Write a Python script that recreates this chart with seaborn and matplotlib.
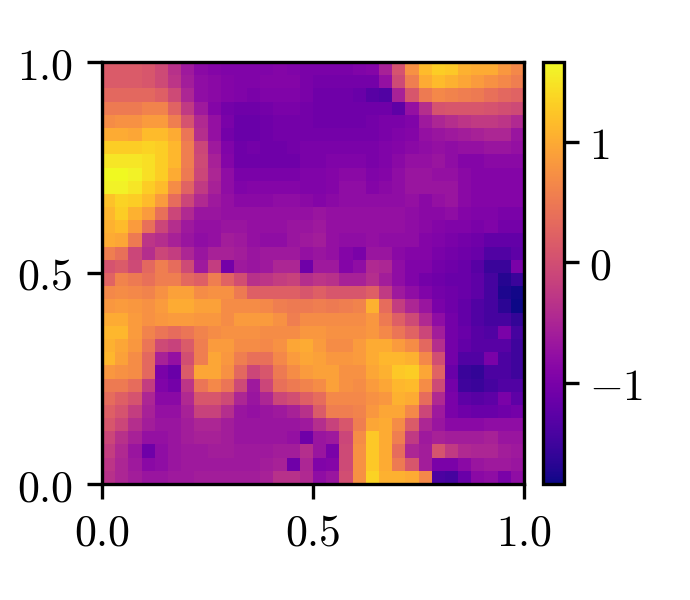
#coding:utf-8
import numpy as np
import matplotlib
matplotlib.use("Agg")
import matplotlib.pyplot as plt
import seaborn as sns

plt.rcParams['mathtext.fontset']='cm'
plt.rcParams['font.size']=10.5

# field values, rows go top to bottom
values_top_left=[
[0.15,0.15,0.15,0.1,-0.05,-0.35,-0.65,-0.85,-0.9,-0.95,-0.95,-0.95,-0.95,-0.9,-0.95,-1.0],
[0.15,0.15,0.15,0.1,-0.05,-0.3,-0.6,-0.8,-0.85,-0.9,-0.95,-0.95,-0.9,-0.9,-0.9,-1.0],
[0.3,0.3,0.3,0.3,0.2,-0.05,-0.5,-0.8,-0.85,-0.9,-0.95,-1.0,-0.95,-0.95,-0.95,-1.0],
[0.5,0.5,0.5,0.6,0.6,0.25,-0.25,-0.65,-0.9,-1.05,-1.1,-1.1,-1.05,-1.0,-1.0,-1.05],
[0.7,0.75,0.75,0.85,0.85,0.55,0.05,-0.45,-0.75,-1.0,-1.15,-1.15,-1.1,-1.05,-1.05,-1.05],
[1.0,1.0,0.95,1.15,1.15,1.0,0.45,-0.4,-0.75,-1.05,-1.15,-1.15,-1.1,-1.05,-1.05,-1.05],
[1.3,1.3,1.3,1.35,1.3,1.1,0.55,-0.1,-0.65,-0.95,-1.1,-1.05,-1.1,-1.1,-1.05,-1.0],
[1.5,1.5,1.5,1.45,1.3,1.1,0.55,-0.05,-0.55,-0.9,-1.1,-1.1,-1.1,-1.1,-1.1,-1.0],
[1.65,1.65,1.6,1.45,1.3,1.0,0.5,-0.1,-0.5,-0.8,-1.0,-1.0,-1.0,-1.0,-1.0,-0.95],
[1.6,1.6,1.5,1.3,1.15,0.7,0.25,-0.25,-0.55,-0.8,-0.95,-0.9,-0.9,-0.9,-0.9,-0.95],
[1.2,1.35,1.3,1.15,0.85,0.35,-0.1,-0.45,-0.65,-0.75,-0.85,-0.85,-0.85,-0.8,-0.8,-0.85],
[1.1,1.3,1.05,0.85,0.4,-0.1,-0.45,-0.7,-0.7,-0.75,-0.75,-0.75,-0.75,-0.75,-0.75,-0.75],
[1.05,1.15,0.85,0.4,-0.1,-0.4,-0.65,-0.75,-0.75,-0.7,-0.7,-0.75,-0.75,-0.75,-0.7,-0.7],
[1.0,0.95,0.5,-0.3,-0.4,-0.55,-0.7,-0.8,-0.75,-0.6,-0.65,-0.75,-0.8,-0.8,-0.7,-0.65],
[0.55,0.4,-0.1,-0.4,-0.1,-0.2,-0.5,-0.7,-0.55,-0.55,-0.6,-0.7,-0.65,-0.65,-0.65,-0.75],
[0.05,0.15,-0.05,0.3,0.55,0.35,-0.05,-0.65,-0.2,-1.05,-0.65,-0.7,-0.65,-0.5,-0.5,-1.1],
]
values_top_right=[
[-1.0,-1.0,-1.0,-0.95,-0.9,-0.55,0.05,0.75,1.15,1.3,1.25,1.05,1.0,1.0,0.8,0.65],
[-1.05,-1.05,-1.05,-1.05,-1.05,-0.75,-0.05,0.55,1.0,1.15,1.05,0.95,0.85,0.75,0.65,0.55],
[-1.1,-1.1,-1.1,-1.15,-1.3,-1.35,-0.55,0.1,0.5,0.65,0.6,0.55,0.5,0.4,0.3,0.25],
[-1.1,-1.1,-1.1,-1.1,-1.1,-1.1,-1.25,-0.75,-0.4,0.05,0.1,0.1,0.1,0.05,0.0,-0.05],
[-1.1,-1.1,-1.1,-1.1,-1.05,-1.0,-1.0,-0.95,-0.65,-0.5,-0.4,-0.3,-0.25,-0.25,-0.3,-0.45],
[-1.05,-1.05,-1.05,-1.05,-1.05,-1.0,-0.95,-0.9,-0.75,-0.7,-0.65,-0.6,-0.55,-0.5,-0.5,-0.7],
[-1.0,-1.0,-1.0,-1.0,-1.0,-0.95,-0.9,-0.85,-0.8,-0.75,-0.8,-0.75,-0.75,-0.7,-0.7,-0.75],
[-1.0,-0.95,-0.95,-0.95,-1.0,-0.95,-0.85,-0.75,-0.75,-0.7,-0.8,-0.9,-0.9,-0.85,-0.85,-0.85],
[-0.95,-0.9,-0.85,-0.85,-0.95,-0.9,-0.8,-0.7,-0.7,-0.75,-0.75,-0.85,-0.9,-0.9,-0.9,-0.9],
[-0.95,-0.9,-0.8,-0.8,-0.9,-0.85,-0.8,-0.7,-0.7,-0.7,-0.7,-0.85,-0.9,-0.9,-0.9,-0.9],
[-0.9,-0.85,-0.8,-0.8,-0.8,-0.8,-0.8,-0.75,-0.85,-0.75,-0.7,-0.85,-0.9,-0.9,-0.9,-0.9],
[-0.7,-0.75,-0.75,-0.75,-0.75,-0.75,-0.75,-0.8,-0.85,-0.85,-0.8,-0.9,-0.95,-0.95,-1.0,-1.0],
[-0.65,-0.75,-0.75,-0.75,-0.75,-0.75,-0.75,-0.8,-0.85,-0.9,-0.95,-0.95,-1.0,-0.95,-1.05,-1.05],
[-0.6,-0.75,-0.8,-0.8,-0.75,-0.8,-0.8,-0.8,-0.9,-0.95,-1.0,-1.05,-1.1,-1.2,-1.2,-1.2],
[-0.7,-0.75,-0.9,-1.0,-0.7,-0.7,-0.85,-0.9,-0.9,-1.0,-1.05,-1.1,-1.15,-1.35,-1.35,-1.25],
[-0.65,-0.65,-0.9,-0.8,-0.45,-0.5,-0.8,-0.95,-0.95,-1.05,-1.1,-1.15,-1.3,-1.55,-1.55,-1.0],
]
values_bottom_left=[
[0.25,0.6,0.5,0.4,0.55,0.55,0.3,0.2,0.55,0.25,0.0,-0.35,-0.3,-0.2,-0.15,-0.4],
[0.65,0.7,0.65,0.6,0.75,0.9,0.9,0.7,0.75,0.75,0.5,0.2,0.2,0.2,0.2,0.1],
[0.8,0.85,0.8,0.75,0.85,1.0,1.0,0.9,0.9,0.7,0.7,0.7,0.65,0.55,0.5,0.5],
[1.0,1.0,0.85,0.75,0.8,0.85,0.85,0.8,0.8,0.7,0.85,0.85,0.85,0.75,0.55,0.7],
[1.1,1.1,0.85,0.6,0.45,0.35,0.45,0.6,0.7,0.75,0.75,0.75,0.7,0.7,0.7,0.8],
[1.05,0.95,0.8,0.45,-0.05,-0.15,0.15,0.55,0.85,0.85,0.7,0.7,0.65,0.75,0.95,1.0],
[1.1,0.9,0.7,0.3,-0.55,-0.75,0.0,0.55,0.95,0.8,0.55,0.4,0.4,0.65,0.85,0.95],
[0.8,0.75,0.7,0.3,-1.0,-1.15,0.15,0.95,0.95,0.75,0.3,-0.1,0.1,0.5,0.7,0.85],
[0.5,0.5,0.35,-0.2,-0.95,-1.05,-0.3,0.45,0.65,0.45,-0.05,-0.65,-0.1,0.4,0.5,0.6],
[0.35,0.2,0.05,-0.5,-0.85,-0.85,-0.45,0.1,0.1,-0.05,-0.5,-0.7,-0.5,-0.1,0.0,0.2],
[0.2,0.05,-0.2,-0.55,-0.75,-0.75,-0.55,-0.15,-0.15,-0.4,-0.7,-0.75,-0.7,-0.65,-0.55,-0.35],
[0.1,-0.1,-0.4,-0.6,-0.7,-0.7,-0.6,-0.5,-0.5,-0.6,-0.7,-0.7,-0.7,-0.7,-0.7,-0.65],
[-0.1,-0.35,-0.55,-0.75,-0.75,-0.7,-0.6,-0.55,-0.55,-0.6,-0.7,-0.7,-0.7,-0.7,-0.75,-1.1],
[-0.2,-0.45,-0.7,-1.1,-0.8,-0.7,-0.65,-0.65,-0.6,-0.6,-0.65,-0.65,-0.65,-0.6,-0.6,-0.4],
[-0.3,-0.5,-0.65,-0.85,-0.8,-0.7,-0.65,-0.65,-0.65,-0.65,-0.65,-0.65,-0.6,-0.55,-1.1,-0.5],
[-0.35,-0.5,-0.6,-0.7,-0.7,-0.65,-0.65,-0.6,-0.6,-0.6,-0.6,-0.6,-0.55,-0.35,-0.35,-0.45],
]
values_bottom_right=[
[-0.3,-0.35,-0.55,-0.55,-0.4,-0.6,-0.8,-0.95,-1.05,-1.1,-1.15,-1.15,-1.25,-1.45,-1.7,-1.55],
[0.2,0.1,0.1,0.1,0.2,-0.25,-0.65,-0.8,-0.95,-1.05,-1.1,-1.15,-1.25,-1.45,-1.75,-1.8],
[0.55,0.5,0.55,0.6,1.05,0.35,-0.2,-0.5,-0.7,-1.0,-1.1,-1.2,-1.35,-1.45,-1.65,-1.84],
[0.7,0.7,0.7,0.7,0.8,0.5,0.2,-0.05,-0.45,-0.8,-1.05,-1.2,-1.35,-1.45,-1.45,-1.6],
[0.8,0.75,0.75,0.75,0.8,0.65,0.45,0.25,-0.1,-0.6,-1.05,-1.15,-1.3,-1.35,-1.0,-1.45],
[0.85,0.7,0.7,0.85,1.0,1.0,0.85,0.7,0.3,-0.4,-1.05,-1.2,-1.3,-1.3,-1.3,-1.5],
[0.9,0.8,0.8,0.85,1.0,1.1,1.1,1.05,0.65,0.0,-1.05,-1.35,-1.35,-1.0,-1.4,-1.5],
[0.9,0.9,0.75,0.75,0.95,1.05,1.25,1.3,0.95,0.25,-1.15,-1.55,-1.6,-1.4,-1.4,-1.5],
[0.7,0.9,0.75,0.7,0.85,0.95,1.1,1.15,0.7,-0.05,-1.05,-1.5,-1.55,-1.45,-1.35,-1.35],
[0.35,0.65,0.65,0.65,0.75,0.8,1.05,1.0,0.35,-0.45,-1.0,-1.25,-1.3,-1.25,-1.0,-1.25],
[0.15,0.55,0.55,0.6,0.8,0.95,0.95,0.65,-0.1,-0.65,-1.0,-1.1,-1.15,-1.15,-1.1,-1.05],
[-0.4,-0.15,0.1,0.55,0.95,1.0,0.7,0.15,-0.5,-0.7,-0.85,-0.85,-0.85,-0.8,-0.8,-0.8],
[-0.7,-0.65,-0.1,0.7,1.25,1.0,0.55,-0.25,-0.65,-0.55,-0.6,-0.6,-0.6,-0.55,-0.7,-0.7],
[-0.7,-1.0,-0.05,0.75,1.25,1.0,0.35,-0.5,-0.6,0.05,-0.25,-0.45,-0.5,-0.5,-0.6,-0.65],
[-0.95,-0.9,-0.05,0.75,1.25,1.0,0.5,0.1,-0.6,-1.0,-1.0,-0.85,-0.7,-0.65,-0.65,-0.7],
[-0.8,-0.7,0.0,0.75,1.35,1.05,1.05,1.0,0.65,-1.4,-1.45,-1.15,-0.85,-0.8,-1.0,-0.8],
]
axis_ticks=[0,16,32]
axis_labels=[r'$0.0$',r'$0.5$',r'$1.0$']
cbar_ticks=[-1,0,1]
cbar_labels=[r'$-1$',r'$0$',r'$1$']

grid=np.block([[np.array(values_top_left),np.array(values_top_right)],
               [np.array(values_bottom_left),np.array(values_bottom_right)]])

fig=plt.figure(figsize=(2.3,2.0),dpi=300)
ax=fig.add_axes([102/690,116/600,422/690,422/600])
cax=fig.add_axes([543/690,116/600,21/690,422/600])

sns.heatmap(grid,ax=ax,cbar_ax=cax,cmap='plasma',vmin=-1.84,vmax=1.66,square=False)

ax.set_xticks(axis_ticks)
ax.set_xticklabels(axis_labels,rotation=0)
ax.set_yticks(axis_ticks[::-1])
ax.set_yticklabels(axis_labels,rotation=0,va='center_baseline')
ax.tick_params(length=3.5,width=0.8,labelsize=10.5)
ax.tick_params(axis='x',pad=3)
for side in ax.spines.values():
	side.set_visible(True)
	side.set_linewidth(0.8)

cb=ax.collections[0].colorbar
cb.set_ticks(cbar_ticks)
cb.set_ticklabels(cbar_labels)
cb.ax.tick_params(length=3.5,width=0.8,labelsize=10.5,pad=2.5)
cb.outline.set_visible(True)
cb.outline.set_linewidth(0.8)

plt.savefig("out.png",dpi=300)
